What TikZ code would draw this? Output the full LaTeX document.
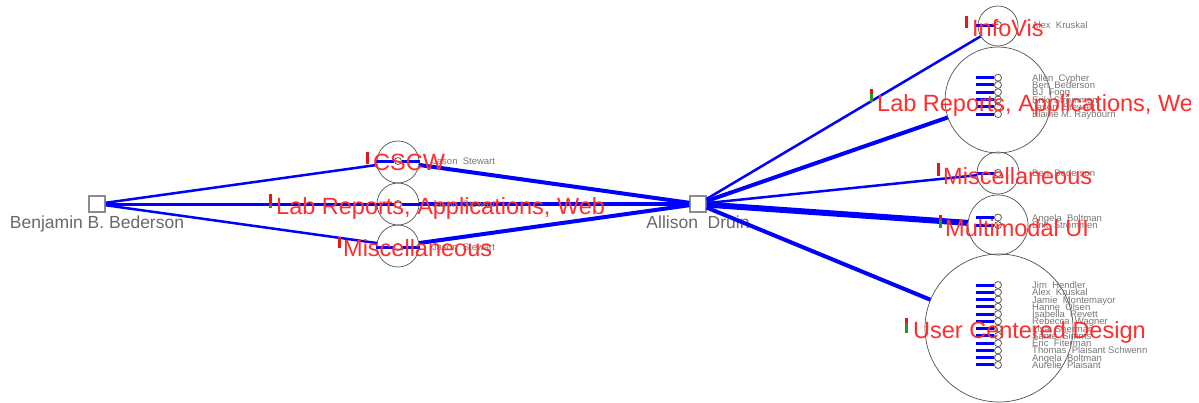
\documentclass[tikz,border=0pt]{standalone}
\usepackage{fontspec}
\setmainfont{Liberation Sans}
\definecolor{ringgray}{RGB}{80,80,80}
\definecolor{dotgray}{RGB}{90,90,90}
\definecolor{boxgray}{RGB}{140,140,140}
\definecolor{persongray}{RGB}{105,105,105}
\definecolor{namegray}{RGB}{120,120,120}
\definecolor{topicred}{RGB}{255,45,45}
\definecolor{tickred}{RGB}{235,20,20}
\definecolor{tickgreen}{RGB}{40,150,40}
\tikzset{
  person/.style={draw=boxgray, line width=1.4pt, fill=white, minimum size=16pt, inner sep=0pt},
  personlabel/.style={text=persongray, font=\fontsize{17.5}{17.5}\selectfont, anchor=base, inner sep=0pt},
  topicring/.style={circle, draw=ringgray, line width=0.7pt, inner sep=0pt, minimum size=#1},
  paperdot/.style={circle, draw=dotgray, fill=white, line width=0.8pt, minimum size=7pt, inner sep=0pt},
  link/.style={draw=blue, line width=#1},
  stub/.style={draw=blue, line width=3pt},
  topiclabel/.style={text=topicred, font=\fontsize{23.5}{23.5}\selectfont, anchor=base west, inner sep=0pt},
  coauthor/.style={text=namegray, font=\fontsize{9.5}{9.5}\selectfont, anchor=base west, inner sep=0pt},
}
\begin{document}
\begin{tikzpicture}[x=1pt,y=-1pt]
\useasboundingbox (0,0) rectangle (1199,402);
\fill[white] (0,0) rectangle (1199,402);
\begin{scope}
\clip (0,0) rectangle (1199,402);

% authors
\node[person] (bed) at (97,204) {};
\node[person] (dru) at (698,204) {};
\node[personlabel] (bedname) at (97,228) {Benjamin B. Bederson};
\node[personlabel] (druname) at (698,228) {Allison~~Druin};

% topic rings shared by both authors
\node[topicring=42pt] (cscw) at (398,162) {};
\node[topicring=42pt] (labm) at (398,204) {};
\node[topicring=42pt] (miscm) at (398,246) {};

% topic rings of Allison Druin
\node[topicring=40pt] (ivis) at (998,26) {};
\node[topicring=106pt] (labr) at (998,100) {};
\node[topicring=42pt] (miscr) at (998,173) {};
\node[topicring=60pt] (mmui) at (998,225) {};
\node[topicring=148pt] (ucd) at (999,328) {};

% links between authors and topics
\draw[link=2.5pt] (bed) -- (cscw);
\draw[link=3pt] (bed) -- (labm);
\draw[link=2.5pt] (bed) -- (miscm);
\draw[link=4pt] (dru) -- (cscw);
\draw[link=4pt] (dru) -- (labm);
\draw[link=4pt] (dru) -- (miscm);
\draw[link=2.5pt] (dru) -- (ivis);
\draw[link=4pt] (dru) -- (labr);
\draw[link=2.5pt] (dru) -- (miscr);
\draw[link=6pt] (dru) -- (mmui);
\draw[link=4pt] (dru) -- (ucd);

% papers in the shared topics
\foreach \n/\y in {c/161, l/204, m/247} {
  \node[paperdot] (p\n) at (398,\y) {};
  \draw[stub] (p\n.west) -- ++(-18,0);
  \draw[stub] (p\n.east) -- ++(18,0);
  \node[coauthor] at (432,\y+3.5) {Jason~~Stewart};
}

% papers in Druin's topics
\node[paperdot] (iv0) at (998,25) {};
\draw[stub] (iv0.west) -- ++(-18,0);
\node[coauthor] at (1032,28.5) {Alex~~Kruskal};

\foreach \nm [count=\i from 0] in {Allen~~Cypher, Ben~~Bederson, BJ~~Fogg, Erik~~Strommen, Jason~~Stewart, Elaine M. Raybourn} {
  \node[paperdot] (lr\i) at (998,{77.7+7.27*\i}) {};
  \draw[stub] (lr\i.west) -- ++(-18,0);
  \node[coauthor] at (1032,{81.2+7.27*\i}) {\nm};
}

\node[paperdot] (ms0) at (998,173) {};
\draw[stub] (ms0.west) -- ++(-18,0);
\node[coauthor] at (1032,176.5) {Ben~~Bederson};

\foreach \nm [count=\i from 0] in {Angela~~Boltman, Erik~~Strommen} {
  \node[paperdot] (mm\i) at (998,{217.5+7.6*\i}) {};
  \draw[stub] (mm\i.west) -- ++(-18,0);
  \node[coauthor] at (1032,{221+7.6*\i}) {\nm};
}

\foreach \nm [count=\i from 0] in {Jim~~Hendler, Alex~~Kruskal, Jamie~~Montemayor, Hanne~~Olsen, Isabella~~Revett, Rebecca~~Wagner, Lisa~~Sherman, Sante~~Simms, Eric~~Fiterman, Thomas~~Plaisant Schwenn, Angela~~Boltman, Aurelie~~Plaisant} {
  \node[paperdot] (uc\i) at (998,{285+7.27*\i}) {};
  \draw[stub] (uc\i.west) -- ++(-18,0);
  \node[coauthor] at (1032,{288.5+7.27*\i}) {\nm};
}

% small bar charts before the topic names
\fill[tickred] (366,152) rectangle (369,164);
\fill[tickred] (268.5,194) rectangle (271.5,205);
\fill[tickgreen] (268.5,205) rectangle (271.5,208);
\fill[tickred] (338,237) rectangle (341,248);
\fill[tickred] (965,16) rectangle (968,28);
\fill[tickred] (869.5,89) rectangle (872.5,94);
\fill[tickgreen] (869.5,94) rectangle (872.5,102);
\fill[tickred] (937,163) rectangle (940,176);
\fill[tickred] (939,215) rectangle (942,220);
\fill[tickgreen] (939,220) rectangle (942,228);
\fill[tickred] (905,318) rectangle (908,323);
\fill[tickgreen] (905,323) rectangle (908,333);

% topic names
\node[topiclabel] (tcscw) at (373,170) {CSCW};
\node[topiclabel] (tlabm) at (276,214) {Lab Reports, Applications, Web};
\node[topiclabel] (tmiscm) at (343,256) {Miscellaneous};
\node[topiclabel] (tivis) at (972,36) {InfoVis};
\node[topiclabel] (tmiscr) at (943,184) {Miscellaneous};
\node[topiclabel] (tmmui) at (945,236) {Multimodal UI};
\node[topiclabel] (tucd) at (913,338) {User Centered Design};
\begin{scope}
  % the drawing area ends short of the last letter
  \clip (0,0) rectangle (1190,402);
  \node[topiclabel] (tlabr) at (877,111) {Lab Reports, Applications, Web};
\end{scope}
\end{scope}
\end{tikzpicture}
\end{document}
